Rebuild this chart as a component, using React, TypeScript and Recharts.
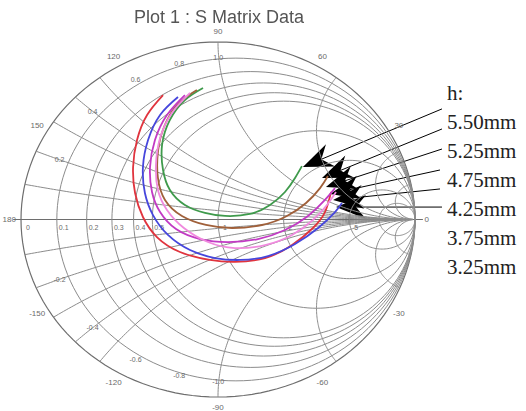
import React from 'react';
import { ScatterChart, Scatter, XAxis, YAxis, ReferenceLine } from 'recharts';

const W = 526;
const H = 411;

// Plot window in reflection-coefficient units (Re, Im)
const X_DOMAIN: [number, number] = [-1.1066, 1.5635];
const Y_DOMAIN: [number, number] = [-1.0789, 1.2366];

// Smith chart grid
const resistanceCircles = [0.1, 0.2, 0.3, 0.4, 0.5, 1, 2, 5, 10];
const reactanceArcs = [0.1, 0.2, 0.3, 0.4, 0.5, 1, 2, 5, 10];
const realAxisTicks = [0, 0.1, 0.2, 0.3, 0.4, 0.5, 1, 2, 5];
const realAxisTickLabels = ['0', '0.1', '0.2', '0.3', '0.4', '0.5', '1', '2', '5'];
const angleTicks = [0, 30, 60, 90, 120, 150, 180, -150, -120, -90, -60, -30];
const reactanceTicks = [0.2, 0.4, 0.6, 0.8, 1];
const reactanceTickLabels = ['0.2', '0.4', '0.6', '0.8', '1.0'];

// S11 traces (Re, Im), one per substrate height
const s550: [number, number][] = [
  [-0.076, 0.741], [-0.168, 0.673], [-0.244, 0.561], [-0.284, 0.42], [-0.279, 0.279],
  [-0.244, 0.166], [-0.168, 0.082], [-0.066, 0.037], [0.036, 0.02], [0.162, 0.031],
  [0.264, 0.082], [0.34, 0.155], [0.391, 0.234], [0.426, 0.301],
];
const s525: [number, number][] = [
  [-0.107, 0.73], [-0.203, 0.651], [-0.274, 0.521], [-0.305, 0.38], [-0.305, 0.234],
  [-0.269, 0.11], [-0.183, 0.02], [-0.061, -0.031], [0.071, -0.048], [0.223, -0.031],
  [0.35, 0.02], [0.447, 0.093], [0.518, 0.177], [0.558, 0.245],
];
const s475: [number, number][] = [
  [-0.279, 0.701], [-0.36, 0.589], [-0.411, 0.448], [-0.431, 0.296], [-0.421, 0.149],
  [-0.381, 0.014], [-0.31, -0.099], [-0.193, -0.183], [-0.041, -0.228], [0.086, -0.239],
  [0.239, -0.217], [0.376, -0.144], [0.482, -0.048], [0.543, 0.042], [0.574, 0.155],
];
const s425: [number, number][] = [
  [-0.168, 0.701], [-0.259, 0.589], [-0.32, 0.448], [-0.345, 0.296], [-0.335, 0.155],
  [-0.294, 0.042], [-0.213, -0.054], [-0.091, -0.11], [0.051, -0.127], [0.203, -0.11],
  [0.34, -0.059], [0.457, 0.02], [0.543, 0.11], [0.594, 0.177],
];
const s375: [number, number][] = [
  [-0.142, 0.713], [-0.234, 0.6], [-0.294, 0.459], [-0.315, 0.307], [-0.305, 0.166],
  [-0.259, 0.054], [-0.173, -0.048], [-0.051, -0.127], [0.086, -0.161], [0.239, -0.144],
  [0.376, -0.087], [0.482, -0.003], [0.553, 0.082], [0.599, 0.155],
];
const s325: [number, number][] = [
  [-0.203, 0.69], [-0.294, 0.589], [-0.355, 0.448], [-0.381, 0.296], [-0.371, 0.149],
  [-0.33, 0.025], [-0.254, -0.087], [-0.142, -0.172], [-0.015, -0.217], [0.112, -0.228],
  [0.254, -0.206], [0.391, -0.138], [0.508, -0.048], [0.594, 0.042], [0.629, 0.093],
];

const traceColors = ['#3f9a4c', '#a0603a', '#e0343e', '#c23ac4', '#f08ade', '#4646dc'];
const traces = [s550, s525, s475, s425, s375, s325];

const legendTitle = 'h:';
const legendLabels = ['5.50mm', '5.25mm', '4.75mm', '4.25mm', '3.75mm', '3.25mm'];

// Annotation arrows: tail at the legend column, tip at the trace end
const arrowTails: [number, number][] = [
  [1.137, 0.623], [1.137, 0.51], [1.137, 0.397], [1.127, 0.279], [1.127, 0.172], [1.137, 0.07],
];
const arrowTips: [number, number][] = [
  [0.431, 0.296], [0.528, 0.234], [0.548, 0.183], [0.569, 0.144], [0.584, 0.11], [0.599, 0.07],
];

type Pt = { x: number; y: number; label?: string; size?: number };

const toPts = (arr: [number, number][]): Pt[] => arr.map(([x, y]) => ({ x, y }));

const rCircle = (r: number): Pt[] => {
  const c = r / (1 + r);
  const rad = 1 / (1 + r);
  const n = 144;
  return Array.from({ length: n + 1 }, (_, i) => {
    const t = (i / n) * 2 * Math.PI;
    return { x: c + rad * Math.cos(t), y: rad * Math.sin(t) };
  });
};

const gammaOf = (r: number, x: number) => {
  const d = (r + 1) * (r + 1) + x * x;
  return { x: (r * r + x * x - 1) / d, y: (2 * x) / d };
};

const xArc = (x: number): Pt[] => {
  const n = 120;
  return Array.from({ length: n + 1 }, (_, i) => {
    const u = (i / n) * 0.995;
    const r = u / (1 - u);
    return gammaOf(r, x);
  });
};

const outerCircle = rCircle(0);
const realAxis: Pt[] = [{ x: -1.04, y: 0 }, { x: 1.04, y: 0 }];

const angleLabelPts: Pt[] = angleTicks.map((a) => ({
  x: 1.06 * Math.cos((a * Math.PI) / 180),
  y: 1.06 * Math.sin((a * Math.PI) / 180),
  label: String(a),
  size: 8,
}));

const realTickPts: Pt[] = realAxisTicks.map((r, i) => ({
  x: (r - 1) / (r + 1) + 0.035,
  y: -0.045,
  label: realAxisTickLabels[i],
  size: 7,
}));

const reactTickPts: Pt[] = reactanceTicks.flatMap((x, i) => {
  const g = gammaOf(0.05, x);
  return [
    { x: g.x * 0.96, y: g.y * 0.96, label: reactanceTickLabels[i], size: 7 },
    { x: g.x * 0.96, y: -g.y * 0.96, label: '-' + reactanceTickLabels[i], size: 7 },
  ];
});

const Nothing = () => <g />;

const TextMark = (props: any) => {
  const { cx, cy, payload } = props;
  return (
    <text
      x={cx}
      y={cy}
      fontSize={payload.size}
      fill="#6a6a6a"
      textAnchor="middle"
      dominantBaseline="central"
      fontFamily="Liberation Sans, Arial, sans-serif"
    >
      {payload.label}
    </text>
  );
};

const ArrowShape = (props: any) => {
  const { x1, y1, x2, y2 } = props;
  const dx = x2 - x1;
  const dy = y2 - y1;
  const L = Math.hypot(dx, dy) || 1;
  const ux = dx / L;
  const uy = dy / L;
  const px = -uy;
  const py = ux;
  const len = 30;
  const half = 12;
  const notch = 20;
  const bx = x2 - ux * len;
  const by = y2 - uy * len;
  const nx = x2 - ux * notch;
  const ny = y2 - uy * notch;
  return (
    <g>
      <line x1={x1} y1={y1} x2={nx} y2={ny} stroke="#000" strokeWidth={1} />
      <polygon
        points={`${x2},${y2} ${bx + px * half},${by + py * half} ${nx},${ny} ${bx - px * half},${by - py * half}`}
        fill="#000"
      />
    </g>
  );
};

const gridStroke = '#8c8c8c';

export default function App() {
  return (
    <div style={{ position: 'absolute', left: 0, top: 0, width: W, height: H, background: '#fff' }}>
      <div
        style={{
          position: 'absolute',
          left: 0,
          width: 438,
          top: 6,
          textAlign: 'center',
          fontFamily: 'Liberation Sans, Arial, sans-serif',
          fontSize: 18,
          lineHeight: '22px',
          color: '#555',
          filter: 'blur(0.6px)',
        }}
      >
        Plot 1 : S Matrix Data
      </div>
      <div style={{ position: 'absolute', left: 0, top: 0 }}>
        <ScatterChart width={W} height={H} margin={{ top: 0, right: 0, bottom: 0, left: 0 }}>
          <XAxis type="number" dataKey="x" domain={X_DOMAIN} hide allowDataOverflow />
          <YAxis type="number" dataKey="y" domain={Y_DOMAIN} hide allowDataOverflow />
          <Scatter
            data={outerCircle}
            line={{ stroke: '#6e6e6e', strokeWidth: 1.2 }}
            shape={Nothing}
            isAnimationActive={false}
          />
          <Scatter
            data={realAxis}
            line={{ stroke: '#6e6e6e', strokeWidth: 1.2 }}
            shape={Nothing}
            isAnimationActive={false}
          />
          {resistanceCircles.map((r) => (
            <Scatter
              key={'r' + r}
              data={rCircle(r)}
              line={{ stroke: gridStroke, strokeWidth: 1 }}
              shape={Nothing}
              isAnimationActive={false}
            />
          ))}
          {reactanceArcs.flatMap((x) => [
            <Scatter
              key={'xp' + x}
              data={xArc(x)}
              line={{ stroke: gridStroke, strokeWidth: 1 }}
              shape={Nothing}
              isAnimationActive={false}
            />,
            <Scatter
              key={'xn' + x}
              data={xArc(-x)}
              line={{ stroke: gridStroke, strokeWidth: 1 }}
              shape={Nothing}
              isAnimationActive={false}
            />,
          ])}
          <Scatter data={angleLabelPts} shape={TextMark} isAnimationActive={false} />
          <Scatter data={realTickPts} shape={TextMark} isAnimationActive={false} />
          <Scatter data={reactTickPts} shape={TextMark} isAnimationActive={false} />
          {traces.map((t, i) => (
            <Scatter
              key={'trace' + i}
              name={legendLabels[i]}
              data={toPts(t)}
              line={{ stroke: traceColors[i], strokeWidth: 1.8 }}
              lineType="joint"
              lineJointType="natural"
              shape={Nothing}
              isAnimationActive={false}
            />
          ))}
          {arrowTails.map((tail, i) => (
            <ReferenceLine
              key={'arrow' + i}
              segment={[
                { x: tail[0], y: tail[1] },
                { x: arrowTips[i][0], y: arrowTips[i][1] },
              ]}
              ifOverflow="visible"
              shape={ArrowShape}
            />
          ))}
        </ScatterChart>
      </div>
      <div
        style={{
          position: 'absolute',
          left: 447,
          top: 79,
          fontFamily: 'Liberation Serif, Times New Roman, serif',
          fontSize: 21,
          lineHeight: '29px',
          color: '#222',
        }}
      >
        <div>{legendTitle}</div>
        {legendLabels.map((l) => (
          <div key={l}>{l}</div>
        ))}
      </div>
    </div>
  );
}
